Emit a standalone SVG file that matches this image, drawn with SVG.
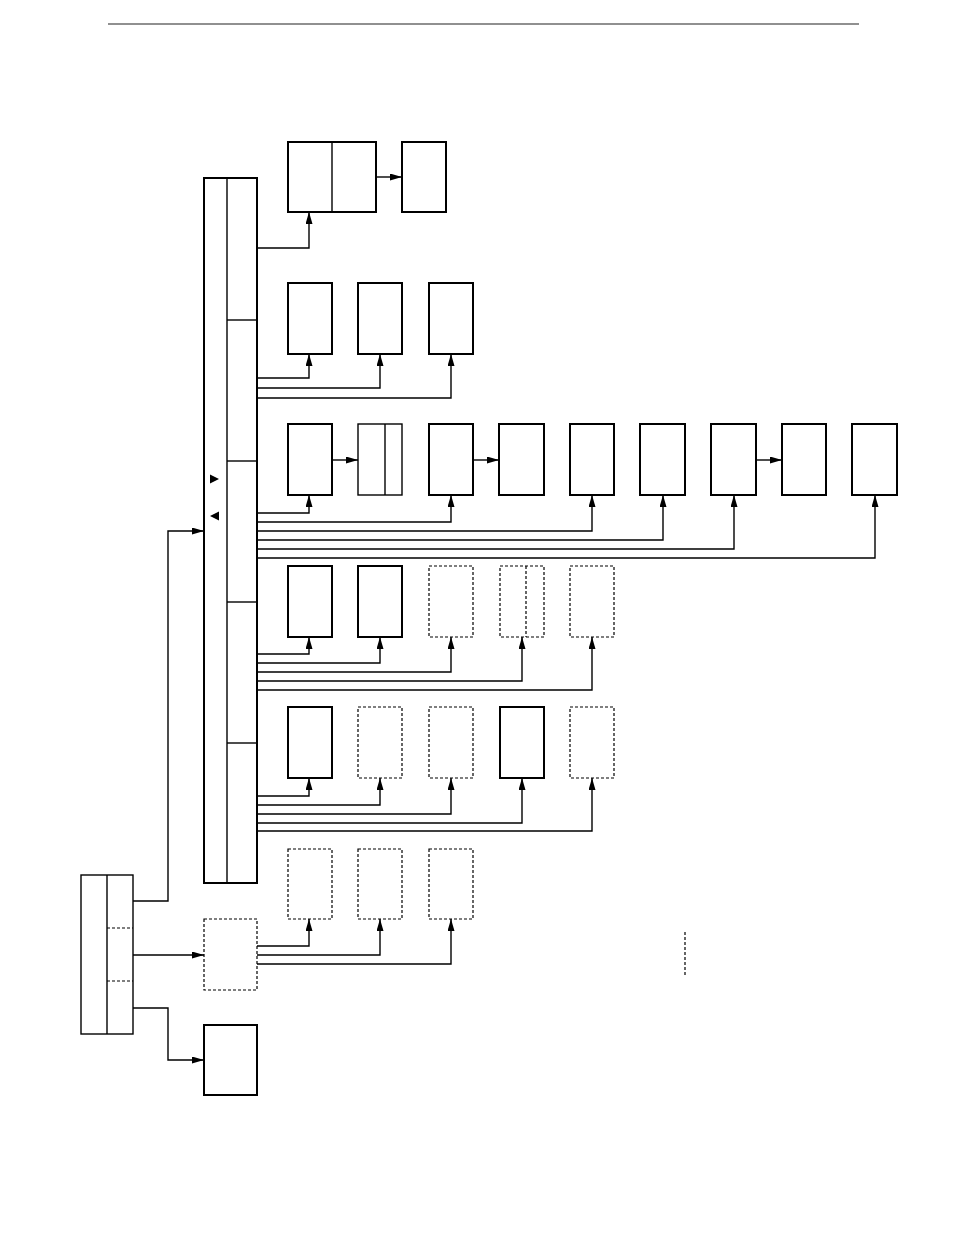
<svg xmlns="http://www.w3.org/2000/svg" width="954" height="1235" viewBox="0 0 954 1235">
<defs>
<marker id="ah" viewBox="0 0 12 7" refX="12" refY="3.5" markerWidth="12" markerHeight="7" markerUnits="userSpaceOnUse" orient="auto">
<path d="M0,0 L12,3.5 L0,7 Z" fill="#000"/>
</marker>
<style>
.b{fill:#fff;stroke:#000;stroke-width:2}
.d{fill:#fff;stroke:#000;stroke-width:1.2;stroke-dasharray:3,2}
.l{fill:none;stroke:#000;stroke-width:1.4}
.dl{fill:none;stroke:#000;stroke-width:1.2;stroke-dasharray:3,2}
.c{fill:none;stroke:#000;stroke-width:1.4;marker-end:url(#ah)}
</style>
</defs>
<rect width="954" height="1235" fill="#fff"/>
<line x1="108" y1="24" x2="859" y2="24" stroke="#222" stroke-width="1.2"/>

<g id="main">
<rect class="b" x="204" y="178" width="53" height="705"/>
<line class="l" x1="227" y1="178" x2="227" y2="883"/>
<line class="l" x1="227" y1="320" x2="257" y2="320"/>
<line class="l" x1="227" y1="461" x2="257" y2="461"/>
<line class="l" x1="227" y1="602" x2="257" y2="602"/>
<line class="l" x1="227" y1="743" x2="257" y2="743"/>
<path d="M210,474.5 L219,479 L210,483.5 Z" fill="#000"/>
<path d="M219,511.5 L210,516 L219,520.5 Z" fill="#000"/>
</g>

<g id="left">
<rect class="l" x="81" y="875" width="52" height="159"/>
<line class="l" x1="107" y1="875" x2="107" y2="1034"/>
<line class="dl" x1="107" y1="928" x2="133" y2="928"/>
<line class="dl" x1="107" y1="981" x2="133" y2="981"/>
</g>
<g id="dbox"><rect class="d" x="204" y="919" width="53" height="71"/></g>
<g id="bbox"><rect class="b" x="204" y="1025" width="53" height="70"/></g>

<g id="r1">
<rect class="b" x="288" y="142" width="88" height="70"/>
<line class="l" x1="332" y1="142" x2="332" y2="212"/>
<rect class="b" x="402" y="142" width="44" height="70"/>
</g>
<g id="r2">
<rect class="b" x="288" y="283" width="44" height="71"/>
<rect class="b" x="358" y="283" width="44" height="71"/>
<rect class="b" x="429" y="283" width="44" height="71"/>
</g>
<g id="r3">
<rect class="b" x="288" y="424" width="44" height="71"/>
<rect class="l" x="358" y="424" width="44" height="71"/>
<line class="l" x1="385" y1="424" x2="385" y2="495"/>
<rect class="b" x="429" y="424" width="44" height="71"/>
<rect class="b" x="499" y="424" width="45" height="71"/>
<rect class="b" x="570" y="424" width="44" height="71"/>
<rect class="b" x="640" y="424" width="45" height="71"/>
<rect class="b" x="711" y="424" width="45" height="71"/>
<rect class="b" x="782" y="424" width="44" height="71"/>
<rect class="b" x="852" y="424" width="45" height="71"/>
</g>
<g id="r4">
<rect class="b" x="288" y="566" width="44" height="71"/>
<rect class="b" x="358" y="566" width="44" height="71"/>
<rect class="d" x="429" y="566" width="44" height="71"/>
<rect class="d" x="500" y="566" width="44" height="71"/>
<line class="dl" x1="526" y1="566" x2="526" y2="637"/>
<rect class="d" x="570" y="566" width="44" height="71"/>
</g>
<g id="r5">
<rect class="b" x="288" y="707" width="44" height="71"/>
<rect class="d" x="358" y="707" width="44" height="71"/>
<rect class="d" x="429" y="707" width="44" height="71"/>
<rect class="b" x="500" y="707" width="44" height="71"/>
<rect class="d" x="570" y="707" width="44" height="71"/>
</g>
<g id="r6">
<rect class="d" x="288" y="849" width="44" height="70"/>
<rect class="d" x="358" y="849" width="44" height="70"/>
<rect class="d" x="429" y="849" width="44" height="70"/>
</g>
<g id="misc"><line class="dl" x1="685" y1="932" x2="685" y2="977"/></g>

<g id="connectors">
<polyline class="c" points="133,901 168,901 168,531 204,531"/>
<polyline class="c" points="133,955 204,955"/>
<polyline class="c" points="133,1008 168,1008 168,1060 204,1060"/>

<polyline class="c" points="257,248 309,248 309,212"/>
<polyline class="c" points="376,177 402,177"/>

<polyline class="c" points="257,378 309,378 309,354"/>
<polyline class="c" points="257,388 380,388 380,354"/>
<polyline class="c" points="257,398 451,398 451,354"/>

<polyline class="c" points="332,460 358,460"/>
<polyline class="c" points="473,460 499,460"/>
<polyline class="c" points="756,460 782,460"/>
<polyline class="c" points="257,513 309,513 309,495"/>
<polyline class="c" points="257,522 451,522 451,495"/>
<polyline class="c" points="257,531 592,531 592,495"/>
<polyline class="c" points="257,540 663,540 663,495"/>
<polyline class="c" points="257,549 734,549 734,495"/>
<polyline class="c" points="257,558 875,558 875,495"/>

<polyline class="c" points="257,654 309,654 309,637"/>
<polyline class="c" points="257,663 380,663 380,637"/>
<polyline class="c" points="257,672 451,672 451,637"/>
<polyline class="c" points="257,681 522,681 522,637"/>
<polyline class="c" points="257,690 592,690 592,637"/>

<polyline class="c" points="257,796 309,796 309,778"/>
<polyline class="c" points="257,805 380,805 380,778"/>
<polyline class="c" points="257,814 451,814 451,778"/>
<polyline class="c" points="257,823 522,823 522,778"/>
<polyline class="c" points="257,831 592,831 592,778"/>

<polyline class="c" points="257,946 309,946 309,919"/>
<polyline class="c" points="257,955 380,955 380,919"/>
<polyline class="c" points="257,964 451,964 451,919"/>
</g>
</svg>
